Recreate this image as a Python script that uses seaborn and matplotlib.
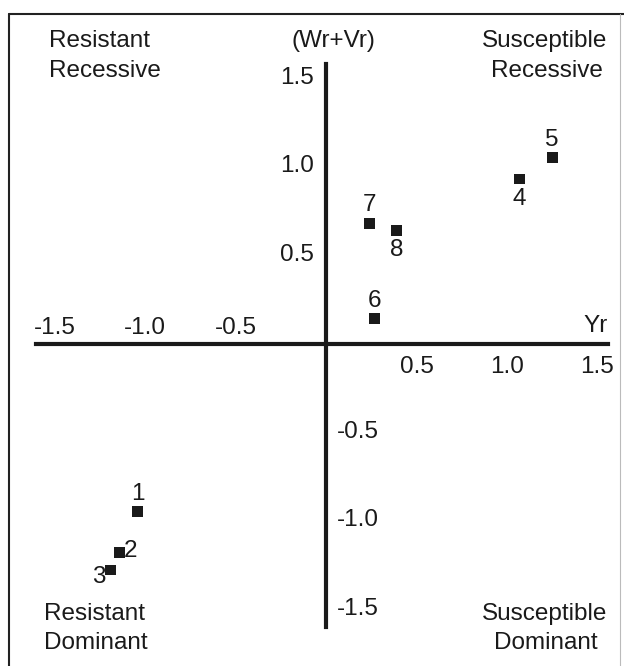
import matplotlib
matplotlib.use("Agg")
import matplotlib.pyplot as plt
from matplotlib.lines import Line2D
import seaborn as sns
import pandas as pd

# Yr vs (Wr+Vr) for eight genotypes
labels = ["1", "2", "3", "4", "5", "6", "7", "8"]
yr = [-1.04, -1.14, -1.19, 1.07, 1.25, 0.27, 0.24, 0.39]
wr_vr = [-0.95, -1.18, -1.28, 0.93, 1.05, 0.14, 0.68, 0.64]
# where each number sits relative to its marker
label_pos = ["above", "right", "left", "below", "above", "above", "above", "below"]

x_ticks = [-1.5, -1.0, -0.5, 0.5, 1.0, 1.5]
y_ticks = [-1.5, -1.0, -0.5, 0.5, 1.0, 1.5]

df = pd.DataFrame({"label": labels, "Yr": yr, "WrVr": wr_vr, "pos": label_pos})

sns.set_style("white")
plt.rcParams["font.family"] = ["Liberation Sans", "DejaVu Sans"]
ink = "#1a1a1a"

fig = plt.figure(figsize=(6.24, 6.66), dpi=100)
ax = fig.add_axes([0, 0, 1, 1])

sns.scatterplot(data=df, x="Yr", y="WrVr", marker="s", s=60, color=ink,
                edgecolor="none", ax=ax, legend=False)

# pixel mapping of the reference: origin at (326, 343.5), 181 px/unit in x, 177 px/unit in y
ax.set_xlim(-326 / 181, (624 - 326) / 181)
ax.set_ylim((343.5 - 666) / 177, 343.5 / 177)

for sp in ["top", "right"]:
    ax.spines[sp].set_visible(False)
ax.spines["bottom"].set_position(("data", 0))
ax.spines["left"].set_position(("data", 0))
ax.spines["bottom"].set_bounds(-1.6, 1.56)
ax.spines["left"].set_bounds(-1.6, 1.58)
for sp in ["bottom", "left"]:
    ax.spines[sp].set_linewidth(3)
    ax.spines[sp].set_color(ink)

ax.set_xticks(x_ticks)
ax.set_yticks(y_ticks)
ax.tick_params(direction="inout", length=8, width=1.5, color=ink,
               labelbottom=False, labelleft=False)
ax.set_xlabel("")
ax.set_ylabel("")

fs = 17.5
for t in x_ticks:
    if t < 0:
        ax.text(t, 0.025, f"{t:.1f}", ha="center", va="bottom", fontsize=fs, color=ink)
    else:
        ax.text(t, -0.07, f"{t:.1f}", ha="center", va="top", fontsize=fs, color=ink)
for t in y_ticks:
    if t > 0:
        ax.text(-0.065, t, f"{t:.1f}", ha="right", va="center", fontsize=fs, color=ink)
    else:
        ax.text(0.06, t, f"{t:.1f}", ha="left", va="center", fontsize=fs, color=ink)

offsets = {"above": (0, 0.04, "center", "bottom"),
           "below": (0, -0.05, "center", "top"),
           "right": (0.025, 0.01, "left", "center"),
           "left": (-0.03, -0.04, "right", "center")}
for _, r in df.iterrows():
    dx, dy, ha, va = offsets[r["pos"]]
    ax.text(r["Yr"] + dx, r["WrVr"] + dy, r["label"], ha=ha, va=va, fontsize=fs, color=ink)

# axis names and quadrant captions (pixel positions of baselines)
ax.text(1.49, 0.035, "Yr", ha="center", va="bottom", fontsize=fs, color=ink)


def caption(x, y_base, s, ha):
    fig.text(x / 624, 1 - y_base / 666, s, ha=ha, va="baseline", fontsize=fs, color=ink)


caption(333, 47, "(Wr+Vr)", "center")
caption(49, 47, "Resistant", "left")
caption(49, 77, "Recessive", "left")
caption(545, 47, "Susceptible", "center")
caption(547, 77, "Recessive", "center")
caption(44, 620, "Resistant", "left")
caption(44, 649, "Dominant", "left")
caption(545, 620, "Susceptible", "center")
caption(546, 649, "Dominant", "center")

# frame of the scanned figure
fig.add_artist(Line2D([9 / 624, 1], [1 - 14 / 666, 1 - 14 / 666], color="#222222",
                      lw=1.5, transform=fig.transFigure))
fig.add_artist(Line2D([9 / 624, 9 / 624], [0, 1 - 14 / 666], color="#222222",
                      lw=1.5, transform=fig.transFigure))
fig.add_artist(Line2D([620 / 624, 620 / 624], [0, 1 - 14 / 666], color="#bbbbbb",
                      lw=0.8, transform=fig.transFigure))

fig.savefig("out.png", dpi=100)
